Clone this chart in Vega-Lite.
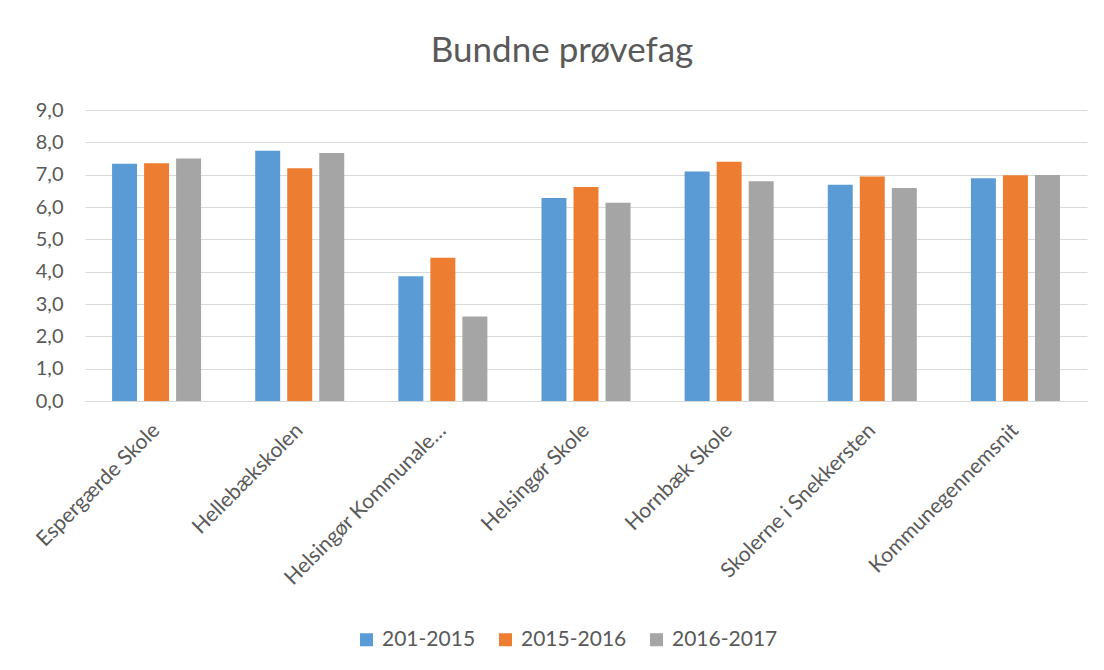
{
  "$schema": "https://vega.github.io/schema/vega-lite/v6.json",
  "autosize": {"type": "none"},
  "width": 1002,
  "height": 291,
  "padding": {"left": 85, "top": 110, "right": 17, "bottom": 269},
  "background": "white",
  "title": {
    "text": "Bundne prøvefag",
    "fontSize": 35,
    "font": "Lato",
    "fontWeight": "normal",
    "color": "#595959",
    "anchor": "middle",
    "baseline": "alphabetic",
    "offset": 3,
    "dx": -24
  },
  "data": {
    "values": [
      {"skole": "Espergærde Skole", "periode": "201-2015", "vaerdi": 7.34},
      {"skole": "Espergærde Skole", "periode": "2015-2016", "vaerdi": 7.35},
      {"skole": "Espergærde Skole", "periode": "2016-2017", "vaerdi": 7.50},
      {"skole": "Hellebækskolen", "periode": "201-2015", "vaerdi": 7.74},
      {"skole": "Hellebækskolen", "periode": "2015-2016", "vaerdi": 7.20},
      {"skole": "Hellebækskolen", "periode": "2016-2017", "vaerdi": 7.67},
      {"skole": "Helsingør Kommunale…", "periode": "201-2015", "vaerdi": 3.86},
      {"skole": "Helsingør Kommunale…", "periode": "2015-2016", "vaerdi": 4.43},
      {"skole": "Helsingør Kommunale…", "periode": "2016-2017", "vaerdi": 2.61},
      {"skole": "Helsingør Skole", "periode": "201-2015", "vaerdi": 6.28},
      {"skole": "Helsingør Skole", "periode": "2015-2016", "vaerdi": 6.62},
      {"skole": "Helsingør Skole", "periode": "2016-2017", "vaerdi": 6.13},
      {"skole": "Hornbæk Skole", "periode": "201-2015", "vaerdi": 7.10},
      {"skole": "Hornbæk Skole", "periode": "2015-2016", "vaerdi": 7.40},
      {"skole": "Hornbæk Skole", "periode": "2016-2017", "vaerdi": 6.80},
      {"skole": "Skolerne i Snekkersten", "periode": "201-2015", "vaerdi": 6.69},
      {"skole": "Skolerne i Snekkersten", "periode": "2015-2016", "vaerdi": 6.94},
      {"skole": "Skolerne i Snekkersten", "periode": "2016-2017", "vaerdi": 6.59},
      {"skole": "Kommunegennemsnit", "periode": "201-2015", "vaerdi": 6.89},
      {"skole": "Kommunegennemsnit", "periode": "2015-2016", "vaerdi": 6.98},
      {"skole": "Kommunegennemsnit", "periode": "2016-2017", "vaerdi": 6.99}
    ]
  },
  "mark": {"type": "bar"},
  "encoding": {
    "x": {
      "field": "skole",
      "type": "nominal",
      "sort": null,
      "scale": {"paddingInner": 0.378, "paddingOuter": 0.189},
      "axis": {
        "title": null,
        "labelAngle": -45,
        "labelAlign": "right",
        "labelBaseline": "middle",
        "labelFont": "Lato",
        "labelFontSize": 21,
        "labelColor": "#595959",
        "labelPadding": 26,
        "labelLimit": 300,
        "ticks": false,
        "domain": true,
        "domainColor": "#d9d9d9",
        "domainWidth": 1
      }
    },
    "xOffset": {
      "field": "periode",
      "type": "nominal",
      "scale": {"paddingInner": 0.22, "paddingOuter": 0}
    },
    "y": {
      "field": "vaerdi",
      "type": "quantitative",
      "scale": {"domain": [0, 9], "nice": false},
      "axis": {
        "title": null,
        "values": [0, 1, 2, 3, 4, 5, 6, 7, 8, 9],
        "labelExpr": "replace(format(datum.value, '.1f'), '.', ',')",
        "labelFont": "Lato",
        "labelFontSize": 20,
        "labelColor": "#595959",
        "labelPadding": 22,
        "ticks": false,
        "domain": false,
        "grid": true,
        "gridColor": "#d9d9d9",
        "gridWidth": 1
      }
    },
    "color": {
      "field": "periode",
      "type": "nominal",
      "scale": {
        "domain": ["201-2015", "2015-2016", "2016-2017"],
        "range": ["#5B9BD5", "#ED7D31", "#A5A5A5"]
      },
      "legend": {
        "title": null,
        "orient": "none",
        "direction": "horizontal",
        "legendX": 271,
        "legendY": 519,
        "symbolType": "square",
        "symbolSize": 169,
        "symbolStrokeWidth": 0,
        "labelFont": "Lato",
        "labelFontSize": 21,
        "labelColor": "#595959",
        "labelOffset": 5,
        "columnPadding": 19
      }
    }
  },
  "config": {
    "view": {"stroke": null}
  }
}
